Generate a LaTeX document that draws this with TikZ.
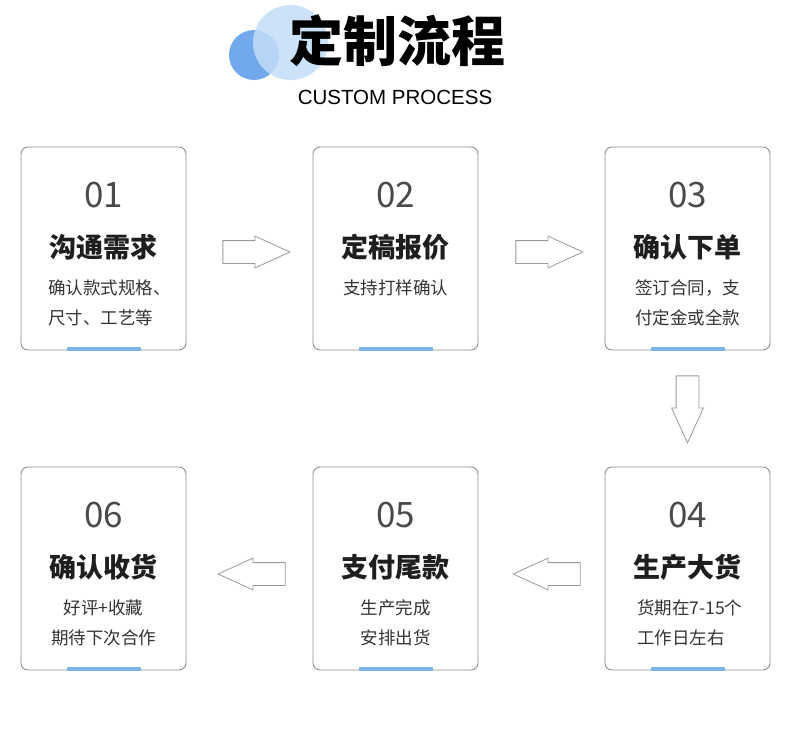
\documentclass[tikz,border=0pt]{standalone}
\usepackage{fontspec}
\setmainfont{Noto Sans CJK SC}
\newfontfamily\latinfont{Liberation Sans}
\usetikzlibrary{shapes.arrows,calc}
\definecolor{framegray}{HTML}{8E8E8E}
\definecolor{arrowgray}{HTML}{9A9A9A}
\definecolor{barblue}{HTML}{7DB4EA}
\definecolor{numgray}{HTML}{4A4A4A}
\definecolor{headblack}{HTML}{1E1E1E}
\definecolor{descgray}{HTML}{333333}
\definecolor{circdark}{HTML}{72A8EC}
\definecolor{circlight}{HTML}{C2DDF8}
\tikzset{
  card/.style={draw=framegray, line width=0.9pt, rounded corners=7pt, minimum width=165pt, minimum height=203pt},
  num/.style={font=\fontsize{35}{35}\selectfont, text=numgray},
  head/.style={font=\fontsize{27}{27}\selectfont\bfseries, text=headblack},
  desc/.style={font=\fontsize{17.5}{17.5}\selectfont, text=descgray},
  bar/.style={fill=barblue},
  flow/.style={single arrow, draw=arrowgray, line width=0.8pt, minimum height=67pt, anchor=tail,
    single arrow head extend=4.5pt, single arrow tip angle=49, inner sep=11pt}
}
\begin{document}
\begin{tikzpicture}[x=1pt,y=-1pt]
			\useasboundingbox (0,0) rectangle (790,755);
			% title
			\fill[circdark] (254,55) circle (25);
			\fill[circlight, opacity=0.85] (290.5,42.5) circle (37.5);
			\node (title) at (397,41) {\fontsize{54}{54}\selectfont\bfseries 定制流程};
			\node (subtitle) at (395,97) {\latinfont\fontsize{20.5}{20.5}\selectfont CUSTOM PROCESS};
			% cards
			\node[card] (card1) at (103.5,248.5) {};
			\node[card] (card2) at (395.5,248.5) {};
			\node[card] (card3) at (687.5,248.5) {};
			\node[card] (card4) at (687.5,568.5) {};
			\node[card] (card5) at (395.5,568.5) {};
			\node[card] (card6) at (103.5,568.5) {};
			\foreach \c in {card1,card2,card3,card4,card5,card6}
				\fill[bar] ($(\c.south)+(-37,-3.5)$) rectangle ($(\c.south)+(37,0.5)$);
			\node[num] (num1) at ($(card1)+(0,-53.5)$) {01};
			\node[head] (head1) at ($(card1)+(0,-1)$) {沟通需求};
			\node[desc, anchor=west] (desc1a) at ($(card1.west)+(24,39.5)$) {确认款式规格、};
			\node[desc, anchor=west] (desc1b) at ($(card1.west)+(24,69.5)$) {尺寸、工艺等};
			\node[num] (num2) at ($(card2)+(0,-53.5)$) {02};
			\node[head] (head2) at ($(card2)+(0,-1)$) {定稿报价};
			\node[desc] (desc2a) at ($(card2)+(0,39.5)$) {支持打样确认};
			\node[num] (num3) at ($(card3)+(0,-53.5)$) {03};
			\node[head] (head3) at ($(card3)+(0,-1)$) {确认下单};
			\node[desc] (desc3a) at ($(card3)+(0,39.5)$) {签订合同，支};
			\node[desc] (desc3b) at ($(card3)+(0,69.5)$) {付定金或全款};
			\node[num] (num4) at ($(card4)+(0,-53.5)$) {04};
			\node[head] (head4) at ($(card4)+(0,-1)$) {生产大货};
			\node[desc, anchor=west] (desc4a) at ($(card4.west)+(29,39.5)$) {货期在7-15个};
			\node[desc, anchor=west] (desc4b) at ($(card4.west)+(29,69.5)$) {工作日左右};
			\node[num] (num5) at ($(card5)+(0,-53.5)$) {05};
			\node[head] (head5) at ($(card5)+(0,-1)$) {支付尾款};
			\node[desc] (desc5a) at ($(card5)+(0,39.5)$) {生产完成};
			\node[desc] (desc5b) at ($(card5)+(0,69.5)$) {安排出货};
			\node[num] (num6) at ($(card6)+(0,-53.5)$) {06};
			\node[head] (head6) at ($(card6)+(0,-1)$) {确认收货};
			\node[desc] (desc6a) at ($(card6)+(0,39.5)$) {好评+收藏};
			\node[desc] (desc6b) at ($(card6)+(0,69.5)$) {期待下次合作};
			% flow arrows
			\node[flow] (step12) at ($(card1.east)+(36,3.5)$) {};
			\node[flow] (step23) at ($(card2.east)+(37,3.5)$) {};
			\node[flow, shape border rotate=270] (step34) at ($(card3.south)+(0,25)$) {};
			\node[flow, shape border rotate=180] (step45) at ($(card4.west)+(-24,5.5)$) {};
			\node[flow, shape border rotate=180] (step56) at ($(card5.west)+(-27,5.5)$) {};
\end{tikzpicture}
\end{document}
